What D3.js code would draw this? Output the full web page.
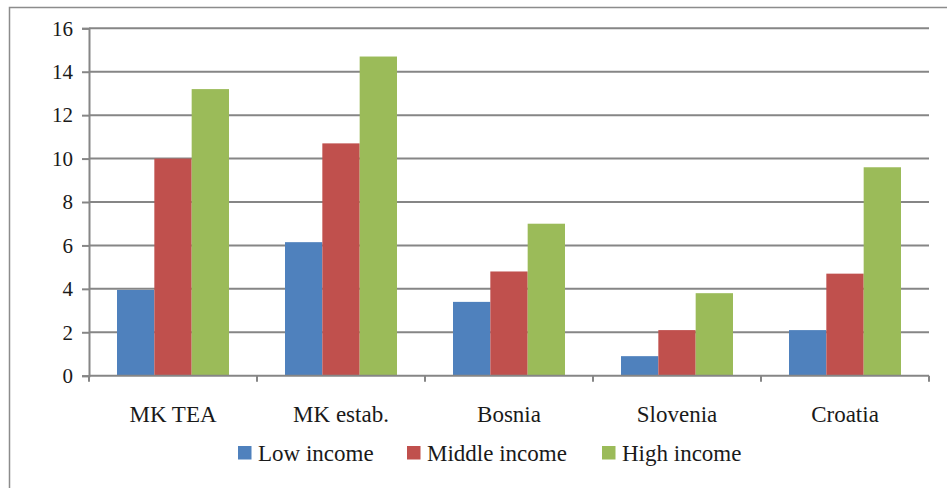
<!DOCTYPE html>
<html>
<head>
<meta charset="utf-8">
<script src="https://cdn.jsdelivr.net/npm/d3@7"></script>
<style>
  body { margin: 0; background: #fff; }
</style>
</head>
<body>
<div id="container"></div>
<script>
let w = 947;
let h = 488;

// data
let categories = ["MK TEA", "MK estab.", "Bosnia", "Slovenia", "Croatia"];
let seriesNames = ["Low income", "Middle income", "High income"];
let lowIncome = [3.95, 6.15, 3.4, 0.9, 2.1];
let middleIncome = [10.0, 10.7, 4.8, 2.1, 4.7];
let highIncome = [13.2, 14.7, 7.0, 3.8, 9.6];
let yTicks = [0, 2, 4, 6, 8, 10, 12, 14, 16];
let colors = ["#4f81bd", "#c0504d", "#9bbb59"];

let seriesValues = [lowIncome, middleIncome, highIncome];

let serifFont = "'Liberation Serif', 'Times New Roman', serif";
let plotLeft = 89, plotRight = 929, plotTop = 28.3, plotBottom = 375.7;

let viz = d3.select("#container")
  .append("svg")
    .attr("width", w)
    .attr("height", h)
    .attr("font-family", "Liberation Serif");

// outer frame (only top and left are visible in the original)
viz.append("rect")
  .attr("x", 9.5).attr("y", 7.5)
  .attr("width", w + 10).attr("height", h + 10)
  .attr("fill", "none")
  .attr("stroke", "#8c8c8c")
  .attr("stroke-width", 1.5);

let x0 = d3.scaleBand().domain(categories).range([plotLeft, plotRight]).padding(0);
let x1 = d3.scaleBand().domain(seriesNames)
  .range([x0.bandwidth() / 6, x0.bandwidth() * 5 / 6]).padding(0);
let yScale = d3.scaleLinear().domain([0, 16]).range([plotBottom, plotTop]);

// gridlines
viz.append("g").attr("class", "grid")
  .selectAll("line").data(yTicks.filter(d => d > 0)).enter()
  .append("line")
    .attr("x1", plotLeft).attr("x2", plotRight)
    .attr("y1", d => yScale(d)).attr("y2", d => yScale(d))
    .attr("stroke", "#868686")
    .attr("stroke-width", 2);

// bars
let groups = viz.append("g").selectAll(".datagroup").data(categories).enter()
  .append("g")
    .attr("class", "datagroup")
    .attr("transform", d => "translate(" + x0(d) + ",0)");

groups.selectAll("rect")
  .data((d, i) => seriesNames.map((s, j) => ({ s: s, v: seriesValues[j][i], c: colors[j] })))
  .enter()
  .append("rect")
    .attr("x", d => x1(d.s))
    .attr("width", x1.bandwidth())
    .attr("y", d => yScale(d.v))
    .attr("height", d => yScale(0) - yScale(d.v))
    .attr("fill", d => d.c);

// y axis
let yAxis = d3.axisLeft(yScale).tickValues(yTicks).tickSize(7).tickPadding(9);
let yAxisGroup = viz.append("g").attr("class", "yaxis")
  .attr("transform", "translate(" + plotLeft + ",0)")
  .call(yAxis)
  .attr("font-family", null);
yAxisGroup.select(".domain").attr("stroke", "#868686").attr("stroke-width", 2);
yAxisGroup.selectAll(".tick line").attr("stroke", "#868686").attr("stroke-width", 2);
yAxisGroup.selectAll("text")
  .attr("font-family", "Liberation Serif")
  .style("font-family", serifFont)
  .attr("font-size", 21)
  .attr("fill", "#1a1a1a");

// x axis: line, boundary ticks and centered labels
let xAxisGroup = viz.append("g").attr("class", "xaxis");
xAxisGroup.append("line")
  .attr("x1", plotLeft).attr("x2", plotRight)
  .attr("y1", plotBottom).attr("y2", plotBottom)
  .attr("stroke", "#868686").attr("stroke-width", 2);
xAxisGroup.selectAll(".bt").data(categories.concat(["end"])).enter()
  .append("line")
    .attr("class", "bt")
    .attr("x1", (d, i) => plotLeft + i * x0.step())
    .attr("x2", (d, i) => plotLeft + i * x0.step())
    .attr("y1", plotBottom).attr("y2", plotBottom + 6)
    .attr("stroke", "#868686").attr("stroke-width", 2);
xAxisGroup.selectAll(".lbl").data(categories).enter()
  .append("text")
    .attr("class", "lbl")
    .attr("x", d => x0(d) + x0.bandwidth() / 2)
    .attr("y", 421.5)
    .attr("text-anchor", "middle")
    .attr("fill", "#1a1a1a")
    .attr("font-family", "Liberation Serif")
    .style("font-family", serifFont)
    .attr("font-size", 23)
    .text(d => d);

// legend
let legendX = [238, 407, 602];
let legend = viz.append("g").attr("class", "legend");
let items = legend.selectAll("g").data(seriesNames).enter()
  .append("g")
    .attr("transform", (d, i) => "translate(" + legendX[i] + ",446)");
items.append("rect")
  .attr("width", 13.5).attr("height", 13.5)
  .attr("fill", (d, i) => colors[i]);
items.append("text")
  .attr("x", 20).attr("y", 14.5)
  .attr("fill", "#1a1a1a")
  .attr("font-family", "Liberation Serif")
  .style("font-family", serifFont)
  .attr("font-size", 23)
  .text(d => d);
</script>
</body>
</html>
